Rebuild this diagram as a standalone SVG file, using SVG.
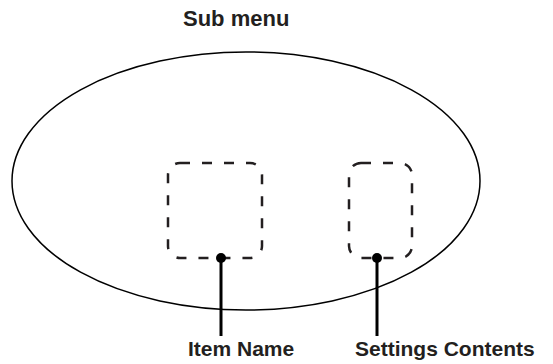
<svg xmlns="http://www.w3.org/2000/svg" width="553" height="364" viewBox="0 0 553 364">
<style>
.lbl{font-family:"Liberation Sans",Arial,sans-serif;font-weight:bold;fill:#231f20}
.box{fill:none;stroke:#231f20;stroke-width:2.5;stroke-dasharray:10 12}
.lead{stroke:#000;stroke-width:3;fill:none}
</style>
<rect width="553" height="364" fill="#fff"/>
<g id="submenu">
<ellipse cx="246" cy="181" rx="234" ry="129" fill="none" stroke="#000" stroke-width="1.5"/>
<text class="lbl" x="183" y="26" font-size="22">Sub menu</text>
</g>
<g id="item-box"><rect class="box" x="168" y="163" width="94" height="95" rx="12"/></g>
<g id="settings-box"><rect class="box" x="349" y="163" width="63" height="95" rx="12"/></g>
<g id="connectors">
<line class="lead" x1="221" y1="258" x2="221" y2="336"/>
<circle cx="221" cy="258" r="5"/>
<line class="lead" x1="377" y1="258" x2="377" y2="336"/>
<circle cx="377" cy="258" r="5"/>
</g>
<g id="item-name"><text class="lbl" x="188" y="356" font-size="21">Item Name</text></g>
<g id="settings-contents"><text class="lbl" x="355" y="356" font-size="21">Settings Contents</text></g>
</svg>
